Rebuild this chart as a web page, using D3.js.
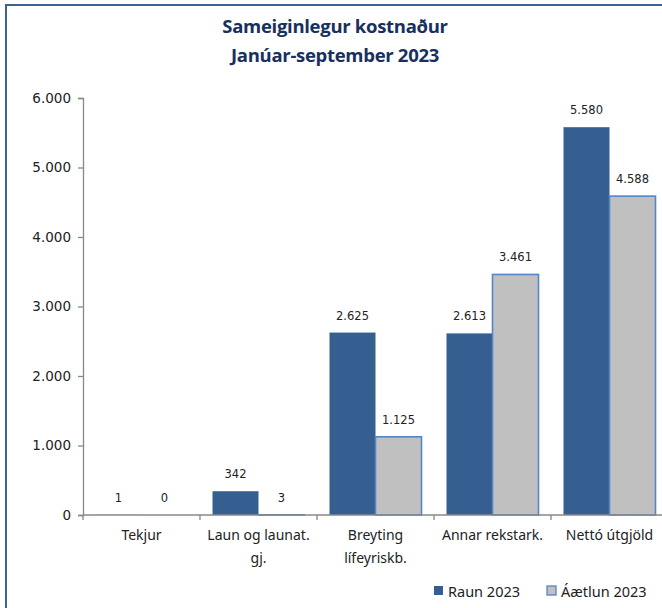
<!DOCTYPE html>
<html>
<head>
<meta charset="utf-8">
<script src="https://cdn.jsdelivr.net/npm/d3@7"></script>
<style>
  body { margin: 0; background: #fff; }
  svg { display: block; }
</style>
</head>
<body>
<svg id="chart" width="662" height="608"></svg>
<script>
var categories = [["Tekjur"], ["Laun og launat.", "gj."], ["Breyting", "lífeyriskb."], ["Annar rekstark."], ["Nettó útgjöld"]];
var raun = [1, 342, 2625, 2613, 5580];
var aaetlun = [0, 3, 1125, 3461, 4588];
var seriesNames = ["Raun 2023", "Áætlun 2023"];
var yTicks = [0, 1000, 2000, 3000, 4000, 5000, 6000];
var titleLines = ["Sameiginlegur kostnaður", "Janúar-september 2023"];

var svg = d3.select('#chart');
var fmt = function(v){ return d3.format(',')(v).replace(/,/g, '.'); };

// outer frame
svg.append('rect')
	.attr('x', 6).attr('y', 5)
	.attr('width', 700).attr('height', 700)
	.attr('fill', 'none')
	.attr('stroke', '#3b6396')
	.attr('stroke-width', 2);

// title
svg.selectAll('.title')
	.data(titleLines)
	.enter()
	.append('text')
	.attr('x', 335)
	.attr('y', function(d,i){ return 33 + i * 29; })
	.attr('text-anchor', 'middle')
	.attr('font-family', 'Open Sans, Noto Sans, sans-serif')
	.attr('font-weight', 'bold')
	.attr('font-size', 18.5)
	.attr('letter-spacing', -0.3)
	.attr('fill', '#17305e')
	.text(function(d){ return d; });

var plotLeft = 83, plotRight = 668, plotTop = 98, plotBottom = 515;

var x0 = d3.scaleBand()
	.domain(d3.range(categories.length))
	.range([plotLeft, plotRight]);

var x1 = d3.scaleBand()
	.domain([0, 1])
	.range([12.5, x0.bandwidth() - 12.5]);

var y = d3.scaleLinear()
	.domain([0, 6000])
	.range([plotBottom, plotTop]);

// y axis
var yAxis = d3.axisLeft(y)
	.tickValues(yTicks)
	.tickSize(5)
	.tickPadding(7)
	.tickFormat(fmt);

var gy = svg.append('g')
	.attr('transform', 'translate(' + plotLeft + ',0)')
	.call(yAxis);
gy.select('.domain').attr('stroke', '#888888').attr('stroke-width', 1.3);
gy.selectAll('.tick line').attr('stroke', '#888888').attr('stroke-width', 1.3);
gy.selectAll('.tick text')
	.attr('font-family', 'DejaVu Sans, Verdana, sans-serif')
	.attr('font-size', 13.5)
	.attr('fill', '#222');

// bars
var groups = svg.selectAll('.group')
	.data(categories)
	.enter()
	.append('g')
	.attr('class', 'group')
	.attr('transform', function(d,i){ return 'translate(' + x0(i) + ',0)'; });

groups.append('rect')
	.attr('x', x1(0))
	.attr('width', x1.bandwidth())
	.attr('y', function(d,i){ return y(raun[i]); })
	.attr('height', function(d,i){ return plotBottom - y(raun[i]); })
	.attr('fill', '#365f91');

groups.append('rect')
	.attr('x', x1(1))
	.attr('width', x1.bandwidth())
	.attr('y', function(d,i){ return y(aaetlun[i]); })
	.attr('height', function(d,i){ return Math.max(0, plotBottom - y(aaetlun[i])); })
	.attr('fill', '#c0c0c0')
	.attr('stroke', '#5585c4')
	.attr('stroke-width', 1.6);

// value labels
[raun, aaetlun].forEach(function(series, s){
	groups.append('text')
		.attr('x', x1(s) + x1.bandwidth() / 2)
		.attr('y', function(d,i){ return y(series[i]) - 13; })
		.attr('text-anchor', 'middle')
		.attr('font-family', 'DejaVu Sans, Verdana, sans-serif')
		.attr('font-size', 11.5)
		.attr('fill', '#222')
		.text(function(d,i){ return fmt(series[i]); });
});

// x axis
var gx = svg.append('g')
	.attr('transform', 'translate(0,' + plotBottom + ')');
gx.append('line')
	.attr('x1', plotLeft).attr('x2', plotRight)
	.attr('stroke', '#888888').attr('stroke-width', 1.3);
gx.selectAll('.xtick')
	.data(d3.range(categories.length + 1))
	.enter()
	.append('line')
	.attr('x1', function(i){ return plotLeft + i * x0.step(); })
	.attr('x2', function(i){ return plotLeft + i * x0.step(); })
	.attr('y1', 0).attr('y2', 5)
	.attr('stroke', '#888888').attr('stroke-width', 1.3);

var labels = gx.selectAll('.xlabel')
	.data(categories)
	.enter()
	.append('text')
	.attr('text-anchor', 'middle')
	.attr('font-family', 'Noto Sans, Open Sans, sans-serif')
	.attr('font-size', 14)
	.attr('fill', '#222')
	.attr('transform', function(d,i){ return 'translate(' + (x0(i) + x0.bandwidth() / 2) + ',0)'; });
labels.selectAll('tspan')
	.data(function(d){ return d; })
	.enter()
	.append('tspan')
	.attr('x', 0)
	.attr('y', function(d,j){ return 25 + j * 23; })
	.text(function(d){ return d; });

// legend
var legendX = [434, 547];
var legend = svg.selectAll('.legend')
	.data(seriesNames)
	.enter()
	.append('g')
	.attr('transform', function(d,i){ return 'translate(' + legendX[i] + ',586)'; });
legend.append('rect')
	.attr('width', 9).attr('height', 9)
	.attr('fill', function(d,i){ return i === 0 ? '#365f91' : '#c0c0c0'; })
	.attr('stroke', function(d,i){ return i === 0 ? 'none' : '#5585c4'; })
	.attr('stroke-width', 1.3);
legend.append('text')
	.attr('x', 14)
	.attr('y', 10.5)
	.attr('font-family', 'Noto Sans, Open Sans, sans-serif')
	.attr('font-size', 14.5)
	.attr('fill', '#222')
	.text(function(d){ return d; });
</script>
</body>
</html>
